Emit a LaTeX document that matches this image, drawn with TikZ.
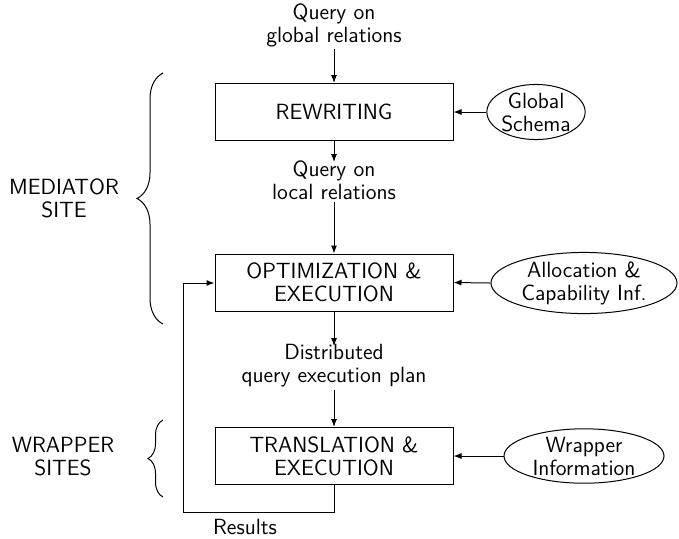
\documentclass[tikz,border=0pt]{standalone}
\usetikzlibrary{shapes.geometric,arrows.meta,decorations.pathreplacing}
\begin{document}
\begin{tikzpicture}[x=0.5pt,y=-0.5pt,
  font=\sffamily\fontsize{11}{11.5}\selectfont,
  every path/.style={line width=0.5pt},
  proc/.style={draw,minimum width=119pt,minimum height=28.5pt,inner sep=0pt,align=center},
  src/.style={draw,ellipse,inner sep=0pt,align=center},
  lbl/.style={align=center,inner sep=0pt},
  arr/.style={-{Latex[length=4pt,width=3pt]}},
  brc/.style={decorate,decoration={brace}}]
\useasboundingbox (0,0) rectangle (679,538);
\node[lbl] (q1) at (334,25) {Query on\\global relations};
\node[proc] (rw) at (334,112) {REWRITING};
\node[src,minimum width=48pt,minimum height=26.5pt] (gs) at (536,112) {Global\\Schema};
\node[lbl] (q2) at (334,180) {Query on\\local relations};
\node[proc] (opt) at (334,282.5) {OPTIMIZATION \&\\EXECUTION};
\node[src,minimum width=93pt,minimum height=28.5pt] (aci) at (584,283) {Allocation \&\\Capability Inf.};
\node[lbl] (q3) at (334,366) {Distributed\\query execution plan};
\node[proc] (tr) at (334,456) {TRANSLATION \&\\EXECUTION};
\node[src,minimum width=80pt,minimum height=27pt] (wi) at (584,456) {Wrapper\\Information};
\node[lbl] (res) at (245,527) {Results};
\node[lbl] (med) at (64,198) {MEDIATOR\\SITE};
\node[lbl] (wrp) at (63,457) {WRAPPER\\SITES};
\coordinate (c1) at (334,512);
\coordinate (c2) at (183,512);
\coordinate (c3) at (183,283);
\coordinate (b1) at (163,324);
\coordinate (b2) at (163,73);
\coordinate (b3) at (163,497);
\coordinate (b4) at (163,420);
\draw[arr] ([yshift=-1pt]q1.south) -- (rw.north);
\draw[arr] (gs.west) -- (rw.east);
\draw[arr] (rw.south) -- ([yshift=-1pt]q2.north);
\draw[arr] ([yshift=-1pt]q2.south) -- (opt.north);
\draw[arr] (aci.west) -- (opt.east);
\draw[arr] (opt.south) -- ([yshift=-1pt]q3.north);
\draw[arr] ([yshift=-1pt]q3.south) -- (tr.north);
\draw[arr] (wi.west) -- (tr.east);
\draw[arr] (tr.south) -- (c1) -- (c2) -- (c3) -- (c3 -| opt.west);
\draw[brc,decoration={brace,amplitude=13pt}] (b1) -- (b2);
\draw[brc,decoration={brace,amplitude=7.5pt}] (b3) -- (b4);
\end{tikzpicture}
\end{document}
